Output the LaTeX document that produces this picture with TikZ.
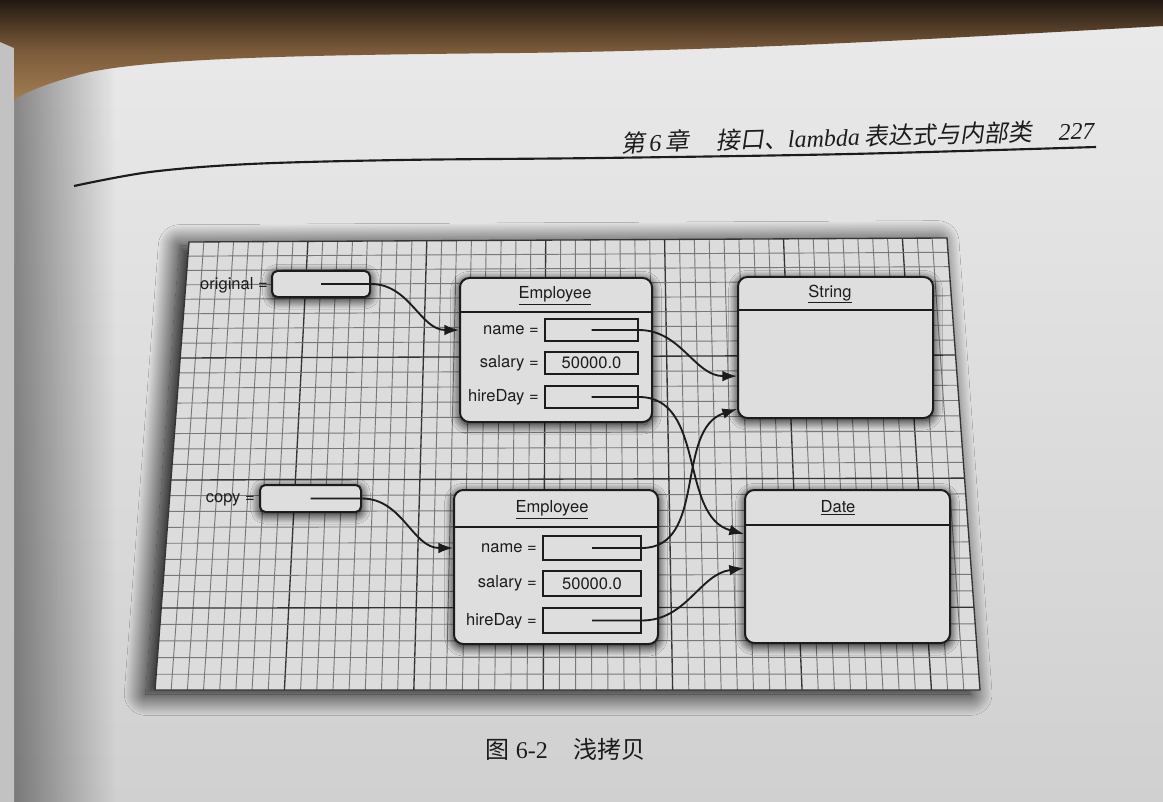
\documentclass[tikz,border=0pt]{standalone}
\usepackage{fontspec}
\setmainfont{TeX Gyre Heros}
\newfontfamily\romanfont{Liberation Serif}
\newfontfamily\cjk{Noto Sans CJK SC}
\newfontfamily\cjkslant{Noto Sans CJK SC}[FakeSlant=0.18]
\usetikzlibrary{arrows.meta,calc,fit,fadings,shadows.blur}

\definecolor{pagelight}{HTML}{EAEAEA}
\definecolor{pagedark}{HTML}{D0D0D0}
\definecolor{leaf}{HTML}{C2C2C2}
\definecolor{woodtop}{HTML}{221912}
\definecolor{woodmid}{HTML}{7A5A3A}
\definecolor{woodlow}{HTML}{A27D51}
\definecolor{cellfill}{HTML}{DCDCDC}
\definecolor{boxfill}{HTML}{DEDEDE}
\definecolor{ink}{HTML}{1C1C1C}
\definecolor{gridminor}{HTML}{787878}
\definecolor{gridmajor}{HTML}{343434}

\begin{document}
\begin{tikzpicture}[x=0.75pt,y=0.75pt,
  gminor/.style={draw=gridminor, line width=0.7pt},
  gmajor/.style={draw=gridmajor, line width=1.0pt},
  objbox/.style={draw=ink, line width=1.5pt, fill=boxfill, rounded corners=7pt,
    inner sep=0pt,
    blur shadow={shadow xshift=0pt, shadow yshift=-2pt, shadow blur radius=7pt,
      shadow blur steps=16, shadow opacity=100}},
  refbox/.style={objbox, rounded corners=4pt},
  fieldbox/.style={draw=ink, line width=1.2pt, fill=boxfill, inner sep=0pt},
  lbl/.style={text=ink, inner sep=0pt, font=\fontsize{12.4}{14}\selectfont},
  sepline/.style={draw=ink, line width=1.2pt},
  ptr/.style={draw=ink, line width=1.4pt, -{Latex[length=11pt,width=8pt]}}
]
\useasboundingbox (0,0) rectangle (1163,-802);

% ---- page, binding shade, next leaf and desk ----
\shade[top color=pagelight, bottom color=pagedark] (0,0) rectangle (1163,-802);
\fill[black, opacity=0.42, path fading=east] (14,-60) rectangle (115,-802);
\fill[leaf] (0,-42) -- (14,-48) -- (14,-802) -- (0,-802) -- cycle;
\shade[top color=woodtop, bottom color=woodlow, middle color=woodmid]
  (0,0) -- (1163,0) -- (1163,-26)
  .. controls (950,-38) and (750,-50) .. (520,-53)
  .. controls (300,-55) and (160,-58) .. (90,-72)
  .. controls (50,-82) and (25,-92) .. (14,-100)
  -- (14,-48) -- (0,-42) -- cycle;

% ---- running head ----
\node[anchor=base east, inner sep=0pt, text=ink, rotate=1.6,
      font=\fontsize{18}{21}\selectfont] (head) at (1095,-139)
  {\cjkslant 第\,{\romanfont\itshape 6}\,章\hspace{20pt}接口、{\romanfont\itshape lambda}\,表达式与内部类\hspace{20pt}{\romanfont\itshape 227}};
\draw[ink, line width=1.6pt] plot[smooth, tension=0.55] coordinates
  {(74,-186) (150,-172) (250,-164) (400,-160) (600,-158) (850,-154) (1096,-147)};

% ---- caption ----
\node[anchor=base west, inner sep=0pt, text=ink, font=\fontsize{18}{21}\selectfont] (caption) at (485,-758)
  {\cjk 图\hspace{5pt}{\romanfont 6-2}\hspace{19pt}浅拷贝};

% ---- grid paper ----
\coordinate (TL) at (189,-242);
\coordinate (TR) at (947,-238);
\coordinate (BR) at (980,-690);
\coordinate (BL) at (155,-690);
\fill[cellfill, blur shadow={shadow xshift=-7pt, shadow yshift=-3pt, shadow blur radius=16pt,
      shadow blur steps=30, shadow opacity=100}]
  (TL) -- (TR) -- (BR) -- (BL) -- cycle;
\foreach \c in {1,...,50}{%
  \pgfmathsetmacro\u{\c/51}%
  \pgfmathtruncatemacro\m{mod(\c,8)}%
  \ifnum\m=0 \def\gs{gmajor}\else\def\gs{gminor}\fi
  \draw[\gs] ($(TL)!\u!(TR)$) -- ($(BL)!\u!(BR)$);
}
\foreach \r in {1,...,28}{%
  \pgfmathsetmacro\v{(14.125*\r+0.0469*\r*\r)/448}%
  \pgfmathtruncatemacro\m{mod(\r,8)}%
  \ifnum\m=0 \def\gs{gmajor}\else\def\gs{gminor}\fi
  \draw[\gs] ($(TL)!\v!(BL)$) -- ($(TR)!\v!(BR)$);
}
\draw[gmajor] (TL) -- (TR) -- (BR) -- (BL) -- cycle;

% ---- reference variables ----
\node[lbl, anchor=east] (olbl) at (268,-285) {original =};
\node[refbox, fit={(272,-271) (370,-297)}] (ob) {};
\node[lbl, anchor=east] (clbl) at (255,-500) {copy =};
\node[refbox, fit={(260,-485) (361,-512)}] (cb) {};

% ---- first Employee object ----
\node[objbox, fit={(460,-278) (652,-422)}] (emp1) {};
\coordinate (e1y) at (0,-312);
\draw[sepline] (emp1.west |- e1y) -- (emp1.east |- e1y);
\node[lbl] (e1t) at (555,-296) {\underline{Employee}};
\node[lbl, anchor=east] (e1nl) at (539,-330) {name =};
\node[lbl, anchor=east] (e1sl) at (539,-363) {salary =};
\node[lbl, anchor=east] (e1hl) at (539,-397) {hireDay =};
\node[fieldbox, fit={(545,-319) (638,-341)}] (e1n) {};
\node[fieldbox, fit={(545,-352) (638,-374)}] (e1s) {};
\node[lbl] (e1sv) at (e1s.center) {50000.0};
\node[fieldbox, fit={(545,-386) (638,-408)}] (e1h) {};

% ---- second Employee object ----
\node[objbox, fit={(454,-490) (658,-644)}] (emp2) {};
\coordinate (e2y) at (0,-527);
\draw[sepline] (emp2.west |- e2y) -- (emp2.east |- e2y);
\node[lbl] (e2t) at (552,-510) {\underline{Employee}};
\node[lbl, anchor=east] (e2nl) at (537,-548) {name =};
\node[lbl, anchor=east] (e2sl) at (537,-583) {salary =};
\node[lbl, anchor=east] (e2hl) at (537,-621) {hireDay =};
\node[fieldbox, fit={(543,-536) (641,-560)}] (e2n) {};
\node[fieldbox, fit={(543,-571) (641,-596)}] (e2s) {};
\node[lbl] (e2sv) at (e2s.center) {50000.0};
\node[fieldbox, fit={(543,-608) (641,-633)}] (e2h) {};

% ---- String and Date objects ----
\node[objbox, fit={(738,-277) (933,-418)}] (str) {};
\coordinate (sy) at (0,-310);
\draw[sepline] (str.west |- sy) -- (str.east |- sy);
\node[lbl] (strt) at (830,-294) {\underline{String}};

\node[objbox, fit={(745,-490) (950,-643)}] (dat) {};
\coordinate (dy) at (0,-525);
\draw[sepline] (dat.west |- dy) -- (dat.east |- dy);
\node[lbl] (datt) at (838,-508) {\underline{Date}};

% ---- references ----
\coordinate (s1) at ($(str.north west)!0.70!(str.south west)$);
\coordinate (s2) at ($(str.north west)!0.93!(str.south west)$);
\coordinate (d1) at ($(dat.north west)!0.29!(dat.south west)$);
\coordinate (d2) at ($(dat.north west)!0.51!(dat.south west)$);

\draw[ptr] (ob.center) -- (ob.east) to[out=0,in=180] (emp1.west |- e1n);
\draw[ptr] (cb.center) -- (cb.east) to[out=0,in=180] (emp2.west |- e2n);
\draw[ptr] (e1n.center) -- (e1n.east) to[out=0,in=180] (s1);
\draw[ptr] (e1h.center) -- (e1h.east) to[out=0,in=165] (d1);
\draw[ptr] (e2n.center) -- (e2n.east) to[out=0,in=198] (s2);
\draw[ptr] (e2h.center) -- (e2h.east) to[out=0,in=188] (d2);
\end{tikzpicture}
\end{document}
